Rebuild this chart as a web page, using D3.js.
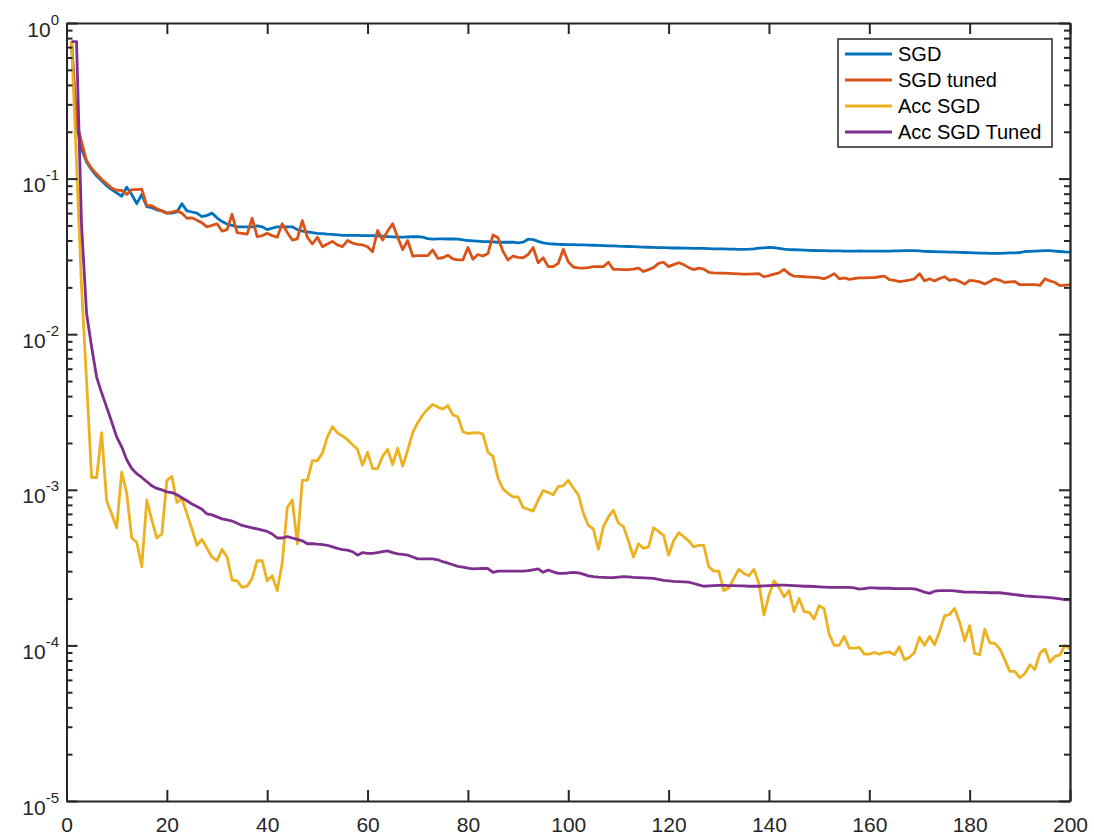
<!DOCTYPE html>
<html>
<head>
<meta charset="utf-8">
<script src="https://cdn.jsdelivr.net/npm/d3@7"></script>
<style>
  html, body { margin: 0; padding: 0; background: #fff; }
  svg { display: block; font-family: "Liberation Sans", Arial, Helvetica, sans-serif; }
</style>
</head>
<body>
<svg id="chart" width="1094" height="837"></svg>
<script>
const seriesNames = ["SGD", "SGD tuned", "Acc SGD", "Acc SGD Tuned"];
const seriesColors = ["#0072BD", "#D95319", "#EDB120", "#7E2F8E"];
const xTickValues = [0, 20, 40, 60, 80, 100, 120, 140, 160, 180, 200];
const yDecades = [1, 1e-1, 1e-2, 1e-3, 1e-4, 1e-5];
const yExponents = ["0", "-1", "-2", "-3", "-4", "-5"];

const sgd = [
0.76,0.22,0.155,0.128,0.114,0.104,0.097,0.09,0.085,0.081,
0.077,0.088,0.079,0.069,0.079,0.066,0.065,0.063,0.062,0.060,
0.060,0.061,0.069,0.062,0.061,0.060,0.057,0.058,0.060,0.056,
0.053,0.051,0.050,0.049,0.049,0.049,0.049,0.0496,0.049,0.047,
0.048,0.049,0.049,0.049,0.049,0.047,0.046,0.0455,0.045,0.0445,
0.0443,0.044,0.0438,0.0435,0.0432,0.0432,0.0432,0.0431,0.043,0.043,
0.043,0.0428,0.0426,0.0424,0.0422,0.042,0.042,0.0422,0.0423,0.0423,
0.042,0.0412,0.0408,0.041,0.041,0.0409,0.0409,0.0408,0.0404,0.040,
0.0398,0.0396,0.0394,0.0393,0.0392,0.039,0.039,0.039,0.039,0.0386,
0.039,0.0408,0.0405,0.0395,0.0386,0.0382,0.038,0.0378,0.0377,0.0376,
0.0376,0.0375,0.0375,0.0374,0.0373,0.0372,0.0371,0.037,0.037,0.0368,
0.0367,0.0366,0.0365,0.0364,0.0363,0.0362,0.0361,0.036,0.036,0.0359,
0.0358,0.0358,0.0357,0.0357,0.0356,0.0356,0.0356,0.0355,0.0354,0.0353,
0.0353,0.0352,0.0352,0.0351,0.0351,0.0352,0.0354,0.0357,0.0359,0.0361,
0.036,0.0356,0.0352,0.035,0.0349,0.0348,0.0347,0.0346,0.0345,0.0344,
0.0344,0.0343,0.0343,0.0343,0.0342,0.0342,0.0342,0.0343,0.0342,0.0342,
0.0342,0.0342,0.0342,0.0342,0.0343,0.0343,0.0344,0.0344,0.0344,0.0343,
0.0341,0.034,0.0339,0.0338,0.0338,0.0337,0.0337,0.0336,0.0335,0.0334,
0.0333,0.0332,0.0332,0.0331,0.0331,0.0331,0.0332,0.0333,0.0333,0.0335,
0.034,0.0341,0.0342,0.0343,0.0344,0.0344,0.0342,0.034,0.0338,0.0337
];

const sgdTuned = [
0.76,0.23,0.172,0.13,0.116,0.107,0.099,0.093,0.087,0.084,
0.084,0.079,0.085,0.085,0.0855,0.067,0.067,0.064,0.062,0.060,
0.061,0.062,0.060,0.0556,0.056,0.054,0.052,0.049,0.050,0.0513,
0.046,0.047,0.059,0.045,0.0445,0.044,0.0556,0.0423,0.043,0.0445,
0.043,0.042,0.0513,0.045,0.0403,0.041,0.0537,0.042,0.038,0.042,
0.0365,0.038,0.0395,0.0375,0.0365,0.040,0.0385,0.0378,0.0375,0.0365,
0.0339,0.0464,0.0403,0.046,0.0513,0.042,0.035,0.040,0.0318,0.032,
0.032,0.032,0.0348,0.0307,0.031,0.0322,0.0305,0.030,0.030,0.0361,
0.0303,0.0325,0.0318,0.033,0.0434,0.0417,0.034,0.030,0.0318,0.0312,
0.031,0.0325,0.0361,0.0288,0.031,0.0272,0.0272,0.0285,0.0351,0.0292,
0.027,0.0267,0.0266,0.0268,0.0272,0.0272,0.0272,0.029,0.0261,0.0261,
0.026,0.026,0.0262,0.0266,0.0253,0.026,0.0268,0.0285,0.029,0.0272,
0.028,0.0288,0.028,0.0268,0.026,0.0266,0.0262,0.025,0.0248,0.0247,
0.0247,0.0246,0.0245,0.0244,0.0243,0.0243,0.0244,0.0245,0.0234,0.0238,
0.0243,0.0248,0.0261,0.0245,0.0236,0.0235,0.0234,0.0233,0.0232,0.0231,
0.0227,0.0235,0.0245,0.0227,0.023,0.0225,0.0228,0.023,0.023,0.0231,
0.0231,0.0234,0.0236,0.0224,0.0222,0.0218,0.022,0.0223,0.0227,0.0245,
0.022,0.0227,0.022,0.0228,0.0234,0.0222,0.0225,0.0218,0.021,0.0222,
0.022,0.0217,0.021,0.0218,0.0227,0.0222,0.0215,0.0217,0.0218,0.0208,
0.0208,0.0208,0.0208,0.0206,0.0227,0.022,0.0215,0.0205,0.0207,0.0208
];

const accSgd = [
0.76,0.125,0.02,0.005,0.0012,0.0012,0.00233,0.00085,0.0007,0.00057,
0.0013,0.00095,0.00049,0.00046,0.00032,0.00086,0.00064,0.00049,0.00052,0.00115,
0.00122,0.00083,0.00088,0.0007,0.00056,0.00044,0.00048,0.00042,0.00037,0.00035,
0.000415,0.00037,0.000263,0.00026,0.000236,0.00024,0.00027,0.00035,0.00035,0.00026,
0.00028,0.000225,0.00034,0.00077,0.00086,0.00045,0.00115,0.00115,0.00154,0.00154,
0.00172,0.00219,0.00255,0.00232,0.00222,0.0021,0.00195,0.00182,0.00144,0.00174,
0.00137,0.00137,0.00164,0.00182,0.00145,0.00185,0.00142,0.0018,0.00233,0.0027,
0.00303,0.0033,0.00354,0.0034,0.0033,0.00348,0.00303,0.00295,0.00236,0.0023,
0.00232,0.00233,0.00228,0.00174,0.00164,0.00119,0.00101,0.00095,0.0009,0.0009,
0.00077,0.00075,0.00073,0.00086,0.00099,0.00096,0.00093,0.00105,0.00106,0.00115,
0.00103,0.00093,0.00071,0.00059,0.00056,0.000415,0.00058,0.00067,0.00074,0.00061,
0.00058,0.00047,0.00037,0.00045,0.00042,0.00043,0.00057,0.00054,0.00051,0.00038,
0.00047,0.00053,0.0005,0.00047,0.00043,0.00044,0.00044,0.00032,0.0003,0.0003,
0.000225,0.000234,0.00027,0.000308,0.00029,0.00028,0.000308,0.00025,0.000157,0.00021,
0.00026,0.000236,0.000205,0.000225,0.000165,0.0002,0.000165,0.000163,0.000148,0.00018,
0.000172,0.000118,0.0001,0.0001,0.000114,0.000096,0.000096,0.000097,0.000088,0.000088,
0.00009,0.000088,0.00009,0.000091,0.000087,0.000098,0.000081,0.000084,0.00009,0.000113,
0.0001,0.000114,0.000101,0.000123,0.000155,0.000158,0.000173,0.000141,0.000107,0.000134,
0.000089,0.000087,0.000127,0.000104,0.000103,0.000095,0.000081,0.000068,0.000068,0.000062,
0.000066,0.000075,0.00007,0.000089,0.000095,0.000078,0.000085,0.000087,0.0001,0.000095
];

const accSgdTuned = [
0.76,0.76,0.05,0.0136,0.0083,0.0053,0.0042,0.0034,0.00274,0.00219,
0.00189,0.00156,0.00137,0.00127,0.0012,0.00113,0.00106,0.00102,0.001,0.00097,
0.00096,0.00093,0.00089,0.00085,0.00081,0.00078,0.00075,0.0007,0.00069,0.00067,
0.00065,0.00064,0.00063,0.00061,0.00059,0.00058,0.00057,0.00056,0.00055,0.00054,
0.00052,0.00049,0.00049,0.0005,0.00049,0.00048,0.00047,0.00045,0.00045,0.000447,
0.000445,0.00044,0.00043,0.00042,0.000413,0.00041,0.0004,0.00038,0.000395,0.00039,
0.00039,0.000395,0.0004,0.000405,0.000395,0.000388,0.000385,0.00038,0.00037,0.00036,
0.00036,0.00036,0.00036,0.000355,0.000345,0.000338,0.00033,0.000322,0.000318,0.000314,
0.00031,0.000311,0.000312,0.000312,0.000295,0.0003,0.0003,0.0003,0.0003,0.0003,
0.0003,0.000302,0.000306,0.00031,0.000295,0.000305,0.000297,0.00029,0.00029,0.000292,
0.000295,0.000292,0.000287,0.00028,0.000277,0.000275,0.000274,0.000273,0.000273,0.000275,
0.000277,0.000276,0.000274,0.000273,0.000272,0.000271,0.00027,0.000266,0.000262,0.00026,
0.000258,0.000257,0.000256,0.000255,0.00025,0.000245,0.00024,0.000241,0.000242,0.000243,
0.000243,0.000242,0.000242,0.000241,0.000241,0.00024,0.00024,0.00024,0.000241,0.000242,
0.000243,0.000244,0.000244,0.000243,0.000242,0.000241,0.00024,0.00024,0.000239,0.000238,
0.000237,0.000236,0.000236,0.000236,0.000236,0.000236,0.000234,0.00023,0.000232,0.000234,
0.000234,0.000233,0.000233,0.000233,0.000232,0.000232,0.000232,0.000232,0.000231,0.000226,
0.00022,0.000216,0.000223,0.000225,0.000225,0.000225,0.000224,0.000222,0.00022,0.00022,
0.00022,0.000219,0.000219,0.000218,0.000218,0.000218,0.000216,0.000214,0.000212,0.00021,
0.000208,0.000207,0.000206,0.000205,0.000204,0.000203,0.000201,0.000199,0.000197,0.000196
];

const iterations = d3.range(1, sgd.length + 1);
const allSeries = [sgd, sgdTuned, accSgd, accSgdTuned];

(function draw() {
  const svg = d3.select("#chart");
  const pLeft = 66.5, pRight = 1070, pTop = 23, pBottom = 801;
  const axisColor = "#262626";

  const x = d3.scaleLinear().domain([0, 200]).range([pLeft, pRight]);
  const y = d3.scaleLog().domain([1e-5, 1]).range([pBottom, pTop]);

  svg.append("rect").attr("x", pLeft).attr("y", pTop)
    .attr("width", pRight - pLeft).attr("height", pBottom - pTop).attr("fill", "#fff");

  const line = d3.line().x((d, i) => x(iterations[i])).y(d => y(d));
  allSeries.forEach((s, k) => {
    svg.append("path").datum(s)
      .attr("d", line)
      .attr("fill", "none")
      .attr("stroke", seriesColors[k])
      .attr("stroke-width", 2.8)
      .attr("stroke-linejoin", "round");
  });

  const minorTicks = y.ticks().filter(v => !yDecades.some(d => Math.abs(d - v) / d < 1e-9));

  function styleAxis(g) {
    g.attr("color", axisColor);
    g.selectAll("path.domain").attr("stroke", axisColor).attr("stroke-width", 1.8);
    g.selectAll(".tick line").attr("stroke", axisColor).attr("stroke-width", 2);
    return g;
  }

  // bottom axis: inward major ticks + labels
  const xBottom = styleAxis(svg.append("g").attr("transform", `translate(0,${pBottom})`)
    .call(d3.axisBottom(x).tickValues(xTickValues).tickSizeInner(-11).tickSizeOuter(0).tickPadding(16).tickFormat(d3.format("d"))));
  xBottom.selectAll("text").attr("font-size", 21).attr("fill", axisColor)
    .attr("font-family", "'Liberation Sans', Arial, sans-serif");
  // top axis
  styleAxis(svg.append("g").attr("transform", `translate(0,${pTop})`)
    .call(d3.axisTop(x).tickValues(xTickValues).tickSizeInner(-11).tickSizeOuter(0).tickFormat(() => "")));
  // left axis major + minor
  styleAxis(svg.append("g").attr("transform", `translate(${pLeft},0)`)
    .call(d3.axisLeft(y).tickValues(yDecades).tickSizeInner(-11).tickSizeOuter(0).tickFormat(() => "")));
  styleAxis(svg.append("g").attr("transform", `translate(${pLeft},0)`)
    .call(d3.axisLeft(y).tickValues(minorTicks).tickSizeInner(-6).tickSizeOuter(0).tickFormat(() => "")));
  // right axis major + minor
  styleAxis(svg.append("g").attr("transform", `translate(${pRight},0)`)
    .call(d3.axisRight(y).tickValues(yDecades).tickSizeInner(-11).tickSizeOuter(0).tickFormat(() => "")));
  styleAxis(svg.append("g").attr("transform", `translate(${pRight},0)`)
    .call(d3.axisRight(y).tickValues(minorTicks).tickSizeInner(-6).tickSizeOuter(0).tickFormat(() => "")));

  // y labels with superscripts
  yDecades.forEach((v, i) => {
    const t = svg.append("text")
      .attr("x", 59).attr("y", y(v) + 13.5)
      .attr("text-anchor", "end")
      .attr("fill", axisColor)
      .attr("font-size", 21);
    t.append("tspan").text("10");
    t.append("tspan").attr("dy", -12).attr("font-size", 15).text(yExponents[i]);
  });

  // legend
  const lg = svg.append("g");
  const lgX = 838, lgY = 39, lgW = 214, lgH = 108;
  lg.append("rect").attr("x", lgX).attr("y", lgY).attr("width", lgW).attr("height", lgH)
    .attr("fill", "#fff").attr("stroke", axisColor).attr("stroke-width", 1.5);
  seriesNames.forEach((name, k) => {
    const cy = lgY + 15 + k * 26;
    lg.append("line").attr("x1", lgX + 7).attr("x2", lgX + 54).attr("y1", cy).attr("y2", cy)
      .attr("stroke", seriesColors[k]).attr("stroke-width", 2.8);
    lg.append("text").attr("x", lgX + 60).attr("y", cy + 7)
      .attr("font-size", 20).attr("fill", "#000").text(name);
  });
})();
</script>
</body>
</html>
